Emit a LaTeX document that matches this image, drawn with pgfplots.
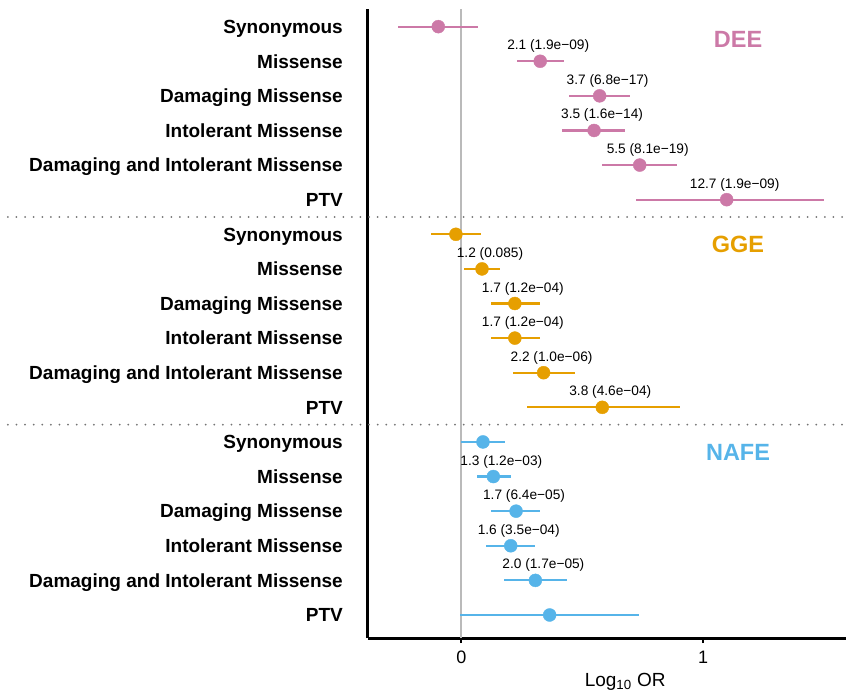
\documentclass[border=0pt]{standalone}
\usepackage{fontspec}
\setmainfont{Liberation Sans}
\usepackage{pgfplots}
\pgfplotsset{compat=1.18}
\usepackage{pgfplotstable}

\definecolor{dee}{HTML}{CC79A7}
\definecolor{gge}{HTML}{E69F00}
\definecolor{nafe}{HTML}{56B4E9}

\pgfplotstableread{
row est lo hi
18 -0.096 -0.263 0.067
17 0.326 0.230 0.423
16 0.572 0.445 0.698
15 0.549 0.416 0.676
14 0.738 0.583 0.892
13 1.098 0.724 1.500
}\deetab

\pgfplotstableread{
row est lo hi
12 -0.023 -0.125 0.081
11 0.085 0.010 0.158
10 0.221 0.124 0.324
9 0.221 0.124 0.324
8 0.340 0.215 0.469
7 0.583 0.273 0.903
}\ggetab

\pgfplotstableread{
row est lo hi
6 0.089 -0.002 0.179
5 0.132 0.065 0.204
4 0.226 0.124 0.324
3 0.204 0.103 0.303
2 0.306 0.176 0.436
1 0.365 -0.006 0.735
}\nafetab

\newcommand{\ann}[3]{\node[anchor=base, xshift=8pt, yshift=11.5pt, inner sep=0pt, font=\fontsize{13.7}{16}\selectfont] at (axis cs:#1,#2) {#3};}

\begin{document}
\begin{tikzpicture}
\path[use as bounding box] (-368pt,-58pt) rectangle (478pt,638pt);
\begin{axis}[
  scale only axis, width=478pt, height=629pt,
  xmin=-0.387, xmax=1.592, ymin=0.335, ymax=18.51,
  axis x line*=bottom, axis y line*=left,
  axis line style={line width=3pt, black, -},
  clip=false,
  xtick={0,1}, xticklabels={0,1},
  tick align=outside, major tick length=5pt,
  xtick style={line width=2pt, black},
  ytick style={draw=none},
  ytick={1,...,18},
  yticklabels={PTV, Damaging and Intolerant Missense, Intolerant Missense, Damaging Missense, Missense, Synonymous,
               PTV, Damaging and Intolerant Missense, Intolerant Missense, Damaging Missense, Missense, Synonymous,
               PTV, Damaging and Intolerant Missense, Intolerant Missense, Damaging Missense, Missense, Synonymous},
  yticklabel style={font=\bfseries\fontsize{19}{22}\selectfont, inner sep=0pt, anchor=base east, xshift=-20pt, yshift=-6.8pt},
  xticklabel style={font=\fontsize{18}{21}\selectfont, inner sep=0pt, anchor=north, yshift=-8pt},
  xlabel={Log\textsubscript{10} OR},
  xlabel style={font=\fontsize{19}{22}\selectfont, at={(rel axis cs:0.538,0)}, anchor=base, yshift=-48pt, inner sep=0pt},
]
% zero line
\addplot[color=black!27, line width=2pt] coordinates {(0,0.335) (0,18.51)};
% group separators
\addplot[color=black!55, line width=2pt, line cap=round, dash pattern=on 0pt off 8.6pt] coordinates {(-1.878,12.5) (1.592,12.5)};
\addplot[color=black!55, line width=2pt, line cap=round, dash pattern=on 0pt off 8.6pt] coordinates {(-1.878,6.5) (1.592,6.5)};

% confidence intervals
\addplot[only marks, mark=none, error bars/.cd, x dir=both, x explicit, error mark=none,
  error bar style={line width=2.2pt, color=dee}]
  table[x=est, y=row, x error plus expr=\thisrow{hi}-\thisrow{est}, x error minus expr=\thisrow{est}-\thisrow{lo}] {\deetab};
\addplot[only marks, mark=none, error bars/.cd, x dir=both, x explicit, error mark=none,
  error bar style={line width=2.2pt, color=gge}]
  table[x=est, y=row, x error plus expr=\thisrow{hi}-\thisrow{est}, x error minus expr=\thisrow{est}-\thisrow{lo}] {\ggetab};
\addplot[only marks, mark=none, error bars/.cd, x dir=both, x explicit, error mark=none,
  error bar style={line width=2.2pt, color=nafe}]
  table[x=est, y=row, x error plus expr=\thisrow{hi}-\thisrow{est}, x error minus expr=\thisrow{est}-\thisrow{lo}] {\nafetab};

% points
\addplot[only marks, mark=*, mark size=6.5pt, mark options={draw=dee, fill=dee}] table[x=est, y=row] {\deetab};
\addplot[only marks, mark=*, mark size=6.5pt, mark options={draw=gge, fill=gge}] table[x=est, y=row] {\ggetab};
\addplot[only marks, mark=*, mark size=6.5pt, mark options={draw=nafe, fill=nafe}] table[x=est, y=row] {\nafetab};

% annotations
\ann{0.326}{17}{2.1 (1.9e−09)}
\ann{0.572}{16}{3.7 (6.8e−17)}
\ann{0.549}{15}{3.5 (1.6e−14)}
\ann{0.738}{14}{5.5 (8.1e−19)}
\ann{1.098}{13}{12.7 (1.9e−09)}
\ann{0.085}{11}{1.2 (0.085)}
\ann{0.221}{10}{1.7 (1.2e−04)}
\ann{0.221}{9}{1.7 (1.2e−04)}
\ann{0.340}{8}{2.2 (1.0e−06)}
\ann{0.583}{7}{3.8 (4.6e−04)}
\ann{0.132}{5}{1.3 (1.2e−03)}
\ann{0.226}{4}{1.7 (6.4e−05)}
\ann{0.204}{3}{1.6 (3.5e−04)}
\ann{0.306}{2}{2.0 (1.7e−05)}

% group labels
\node[font=\bfseries\fontsize{23.5}{26}\selectfont, text=dee] at (axis cs:1.145,17.64) {DEE};
\node[font=\bfseries\fontsize{23.5}{26}\selectfont, text=gge] at (axis cs:1.145,11.71) {GGE};
\node[font=\bfseries\fontsize{23.5}{26}\selectfont, text=nafe] at (axis cs:1.145,5.69) {NAFE};
\end{axis}
\end{tikzpicture}
\end{document}
